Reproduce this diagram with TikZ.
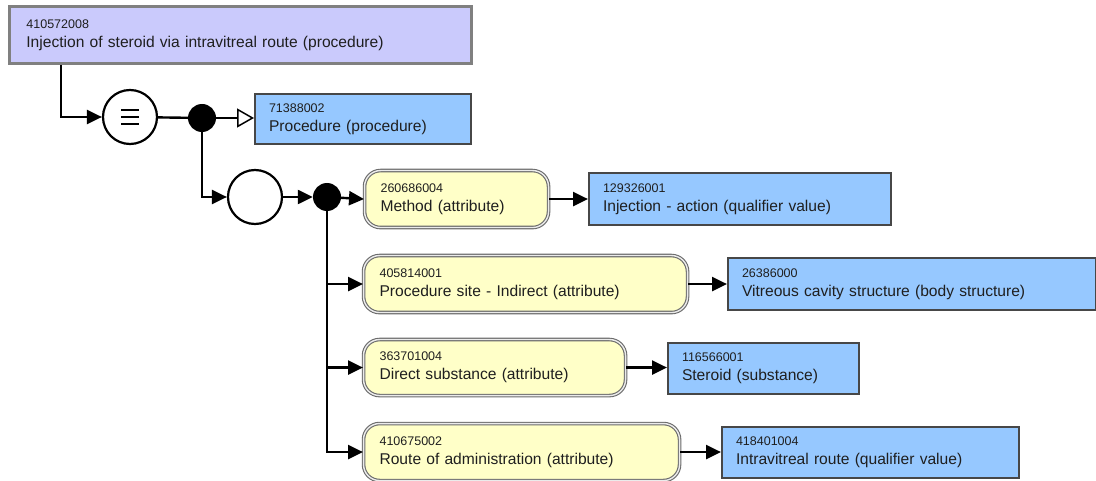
\documentclass[tikz,border=0pt]{standalone}
\usepackage{fontspec}
\setmainfont{Liberation Sans}
\usetikzlibrary{arrows.meta}

\definecolor{lila}{HTML}{CACAFC}
\definecolor{azul}{HTML}{96C8FF}
\definecolor{crema}{HTML}{FFFFC8}

% Texto de un concepto: identificador arriba, descripción abajo
\newcommand{\concepto}[2]{{\fontsize{12.5}{15}\selectfont #1}\\#2}

\begin{document}
\begin{tikzpicture}[x=1pt,y=-1pt,
    caja/.style={anchor=north west, align=left, inner xsep=14pt, inner ysep=0pt,
                 font=\fontsize{15.6}{19}\selectfont, text=black!88},
    valor/.style={caja, fill=azul, draw=black!72, line width=2pt},
    atributo/.style={caja, fill=crema, rounded corners=16pt, draw=black!58,
                     line width=1.1pt, double=black!8, double distance=1.4pt, inner xsep=16pt},
    circulo/.style={circle, draw, fill=white, line width=2.2pt, minimum size=54pt, inner sep=0pt},
    punto/.style={circle, fill=black, minimum size=28pt, inner sep=0pt},
    linea/.style={line width=2.4pt},
    flecha/.style={linea, -{Triangle[length=15pt,width=14pt]}},
    abierta/.style={linea, -{Triangle[open,fill=white,length=17pt,width=19pt,line width=1.5pt]}}]

    % Marco de la figura
    \useasboundingbox (0,0) rectangle (1096,481);

    % Concepto definido
    \node[caja, fill=lila, draw=black!50, line width=2.8pt, inner xsep=17pt,
          text width=428pt, minimum height=57pt] (inyeccion) at (8,5)
          {\concepto{410572008}{Injection of steroid via intravitreal route (procedure)}};

    % Equivalencia y primer nodo de conjunción
    \node[circulo] (equiv) at (130,117) {};
    \foreach \dy in {-7,0,7}
        \draw[line width=2.6pt] ([shift={(-9,\dy)}]equiv.center) -- ++(18,0);
    \node[punto] (nodo1) at (202,118) {};

    % Padre
    \node[valor, text width=188pt, minimum height=50pt] (procedimiento) at (254,93)
          {\concepto{71388002}{Procedure (procedure)}};

    % Grupo de atributos
    \node[circulo] (grupo) at (255,197) {};
    \node[punto] (nodo2) at (327,197) {};

    % Atributos
    \node[atributo, text width=152pt, minimum height=57pt] (metodo) at (364,170)
          {\concepto{260686004}{Method (attribute)}};
    \node[atributo, text width=292pt, minimum height=57pt] (sitio) at (363,255)
          {\concepto{405814001}{Procedure site - Indirect (attribute)}};
    \node[atributo, text width=230pt, minimum height=56pt] (sustancia) at (363,339)
          {\concepto{363701004}{Direct substance (attribute)}};
    \node[atributo, text width=284pt, minimum height=57pt] (via) at (363,423)
          {\concepto{410675002}{Route of administration (attribute)}};

    % Valores
    \node[valor, text width=274pt, minimum height=52pt] (accion) at (588,172)
          {\concepto{129326001}{Injection - action (qualifier value)}};
    \node[valor, text width=340pt, minimum height=52pt] (vitreo) at (727,257)
          {\concepto{26386000}{Vitreous cavity structure (body structure)}};
    \node[valor, text width=163pt, minimum height=51pt] (esteroide) at (667,342)
          {\concepto{116566001}{Steroid (substance)}};
    \node[valor, text width=269pt, minimum height=51pt] (intravitrea) at (721,426)
          {\concepto{418401004}{Intravitreal route (qualifier value)}};

    % Conectores
    \draw[flecha] ([xshift=53pt]inyeccion.south west) |- (equiv.west);
    \draw[linea] (equiv) -- (nodo1);
    \draw[abierta] (nodo1) -- (nodo1 -| procedimiento.west);
    \draw[flecha] (nodo1) |- (grupo.west);
    \draw[flecha] (grupo) -- (nodo2);
    \draw[flecha] (nodo2) -- (metodo.west);
    \foreach \a in {sitio,sustancia,via}
        \draw[flecha] (nodo2) |- (\a.west);

    % Atributo -> valor
    \draw[flecha] (metodo.east) -- (metodo.east -| accion.west);
    \draw[flecha] (sitio.east) -- (sitio.east -| vitreo.west);
    \draw[flecha] (sustancia.east) -- (sustancia.east -| esteroide.west);
    \draw[flecha] (via.east) -- (via.east -| intravitrea.west);
\end{tikzpicture}
\end{document}
